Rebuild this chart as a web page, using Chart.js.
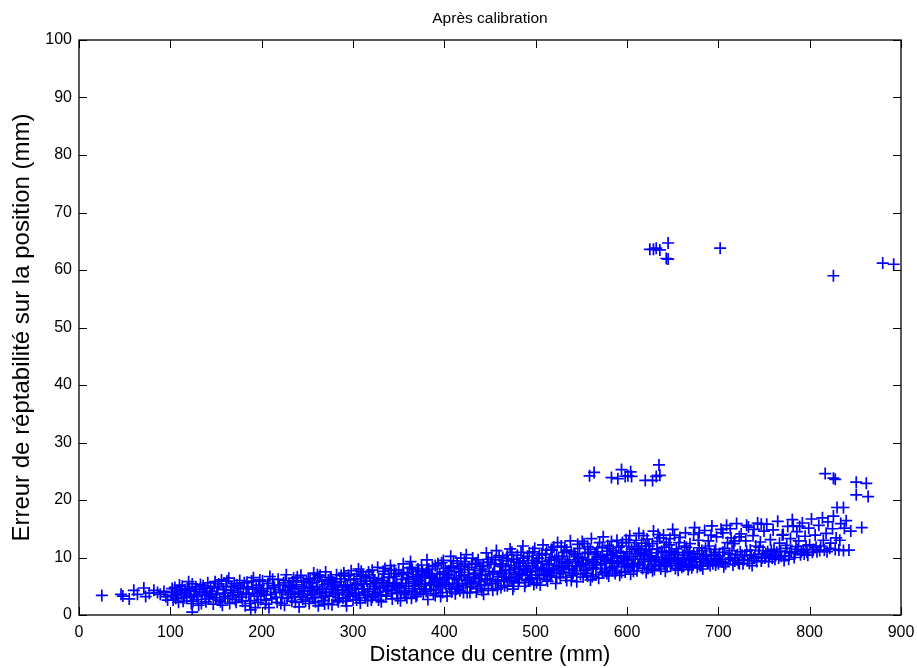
<!DOCTYPE html>
<html><head><meta charset="utf-8">
<script src="https://cdn.jsdelivr.net/npm/chart.js@4/dist/chart.umd.min.js"></script>
<style>html,body{margin:0;padding:0;background:#fff}#w{width:917px;height:668px}</style>
</head><body><div id="w"><canvas id="c" width="917" height="668"></canvas></div>
<script>
const titleText = "Après calibration";
const xLabel = "Distance du centre (mm)";
const yLabel = "Erreur de réptabilité sur la position (mm)";
const xTicks = [0,100,200,300,400,500,600,700,800,900];
const yTicks = [0,10,20,30,40,50,60,70,80,90,100];

// [distance (mm), erreur (mm)]
const cloudNear = [
[25,3.4],[46,3.6],[48,3.3],[55,2.8],[60,4.3],[64,3.6],[71,4.7],[73,3.2],[77,3.8],[82,4.3],[86,3.9],[89,3.6],[93,4.1],[95,3.2],[97,2.6],
[102,4.6],[104,3.4],[106,2.9],[108,4.0],[110,5.2],[112,3.7],[114,2.4],[116,4.4],[118,3.1],[120,5.8],[121,4.2],[123,2.0],[124,0.5],[126,3.6],[128,4.9],[130,2.7],[131,1.7],[133,5.3],[135,3.9],[137,4.6],[139,2.3],[141,5.6],[143,3.3],[145,4.1],[147,1.9],[149,5.8],[150,3.0],
[152,4.7],[154,2.6],[156,6.1],[157,1.7],[159,3.8],[161,5.0],[163,2.9],[164,6.4],[166,4.3],[168,3.4],[170,5.5],[172,2.2],[174,4.0],[176,6.0],[178,3.1],[180,4.8],[182,1.6],[184,5.7],[186,3.6],[188,0.9],[188,2.5],[190,4.5],[191,6.5],[193,1.3],[195,3.3],[197,5.2],[199,2.7],[200,4.2]
];
const cloudMid = [
[201,5.9],[203,3.5],[204,1.9],[206,4.6],[208,1.3],[209,6.7],[211,2.8],[213,5.1],[215,3.9],[217,2.2],[218,6.2],[220,4.4],[222,3.0],[224,5.6],[225,1.7],[227,7.0],[229,3.6],[231,4.9],[233,2.4],[235,6.4],[236,3.2],[238,5.3],[240,4.0],[241,1.4],[243,6.9],[245,2.7],[247,4.7],[249,5.8],[250,3.4],
[252,2.0],[253,6.1],[255,4.2],[257,7.3],[258,3.0],[260,5.0],[262,1.6],[263,6.6],[265,3.8],[267,4.6],[268,2.5],[270,7.5],[272,5.5],[274,3.3],[275,6.2],[277,1.8],[279,4.9],[281,3.6],[282,7.0],[284,2.3],[286,5.8],[288,4.3],[289,2.9],[291,6.8],[293,1.6],[294,5.2],[296,3.9],[298,7.7],[299,4.7],[300,2.6],
[301,6.3],[303,3.4],[305,5.4],[306,8.0],[308,2.1],[310,4.5],[311,6.9],[313,3.0],[315,5.9],[317,7.5],[318,4.1],[320,2.6],[322,6.4],[324,5.0],[325,3.7],[327,8.3],[329,4.7],[331,2.3],[332,6.0],[334,7.1],[336,3.3],[338,5.6],[339,4.4],[341,8.6],[343,2.8],[345,6.7],[346,5.1],[348,3.9],[350,7.8],
[351,4.8],[352,2.5],[354,6.2],[355,8.9],[357,3.6],[358,5.5],[360,7.3],[361,4.2],[363,9.3],[364,2.9],[366,6.7],[368,5.1],[369,3.2],[371,8.0],[373,4.6],[374,6.0],[376,7.6],[377,3.8],[379,5.4],[381,9.6],[382,2.7],[384,6.9],[385,4.4],[387,8.4],[389,5.8],[390,3.4],[392,7.2],[394,4.9],[395,6.4],[397,9.1],[398,3.9],[400,5.6],
[401,8.1],[403,3.3],[404,6.8],[406,4.6],[407,10.2],[409,5.5],[411,7.6],[412,3.7],[414,9.0],[416,6.1],[417,4.2],[419,8.5],[420,5.2],[422,7.0],[424,10.5],[425,3.9],[427,6.5],[429,4.9],[430,8.8],[432,5.8],[433,7.3],[435,4.0],[437,9.6],[438,6.3],[440,5.1],[442,8.0],[443,3.6],[445,7.0],[446,10.8],[448,4.6],[450,6.0]
];
const cloudFar = [
[451,9.1],[453,4.3],[454,7.4],[456,5.5],[457,11.2],[459,6.7],[461,8.5],[462,4.8],[464,10.0],[465,6.1],[467,7.9],[469,5.1],[470,9.4],[472,11.5],[473,6.4],[475,4.5],[477,8.2],[478,7.1],[480,10.4],[481,5.6],[483,9.0],[485,6.9],[486,12.0],[488,5.0],[490,8.0],[491,7.5],[493,10.8],[494,6.2],[496,9.5],[498,5.3],[499,11.6],[500,7.7],
[502,6.4],[503,9.9],[505,5.2],[506,8.3],[508,12.2],[510,7.1],[511,10.6],[513,5.9],[514,8.9],[516,6.8],[518,11.3],[519,7.8],[521,9.6],[522,5.5],[524,12.6],[526,8.4],[527,6.5],[529,10.2],[530,7.4],[532,11.8],[534,6.0],[535,9.2],[537,8.0],[538,12.9],[540,6.9],[542,10.7],[543,7.7],[545,5.8],[547,9.8],[548,11.6],[550,8.6],
[552,6.6],[553,12.4],[555,9.0],[556,7.3],[558,10.9],[560,6.1],[561,13.3],[563,8.2],[564,9.7],[566,7.0],[568,11.7],[569,6.4],[571,10.1],[572,8.7],[574,13.6],[576,7.6],[577,9.4],[579,12.1],[580,6.8],[582,10.5],[584,8.0],[585,11.2],[587,7.2],[589,13.0],[590,9.1],[592,6.9],[593,10.8],[595,12.6],[597,8.4],[598,7.5],[600,11.0],
[601,9.5],[603,13.8],[604,7.1],[606,8.8],[608,11.9],[609,10.2],[611,7.7],[613,14.2],[614,9.0],[616,12.5],[617,8.1],[619,10.6],[621,7.4],[622,13.2],[624,9.6],[625,11.4],[627,8.4],[629,14.6],[630,7.9],[632,10.0],[633,12.8],[635,9.2],[637,8.0],[638,11.1],[640,13.9],[642,7.6],[643,10.4],[645,9.4],[646,12.2],[648,8.6],[650,14.9]
];
const cloudEdge = [
[651,9.9],[653,8.1],[654,11.5],[656,7.8],[658,13.5],[659,9.1],[661,10.4],[662,8.5],[664,14.3],[666,10.8],[667,7.9],[669,12.4],[670,9.4],[672,8.7],[674,15.2],[675,10.1],[677,8.3],[678,13.0],[680,9.7],[682,11.2],[683,8.0],[685,14.7],[687,10.5],[688,9.0],[690,12.0],[691,8.6],[693,15.5],[695,9.8],[696,10.9],[698,13.6],[700,8.9],
[701,10.3],[703,14.9],[704,9.2],[706,8.4],[707,11.6],[709,15.6],[711,9.7],[712,10.6],[714,13.4],[716,8.7],[717,12.4],[719,10.0],[720,15.9],[722,9.1],[724,11.0],[725,14.1],[727,8.9],[729,10.4],[730,12.9],[732,9.5],[733,15.3],[735,11.3],[737,8.6],[738,13.8],[740,10.1],[742,9.3],[743,16.0],[745,11.8],[746,12.7],[748,9.9],[750,14.6],
[752,10.6],[753,15.8],[755,9.3],[757,13.1],[758,11.2],[760,14.8],[762,9.7],[764,10.9],[765,16.3],[767,12.5],[769,10.2],[771,14.0],[772,9.5],[774,11.6],[776,15.4],[778,10.8],[779,13.3],[781,16.6],[783,10.0],[785,11.9],[786,14.5],[788,12.9],[790,10.5],[792,16.0],[793,11.3],[795,13.7],[797,10.9],[799,15.1],[800,12.2],
[802,16.7],[804,11.4],[806,13.9],[808,11.0],[810,15.6],[812,12.0],[814,16.9],[816,11.3],[818,14.2],[820,16.2],[822,11.6],[825,15.0],[826,17.2],[829,13.4],[832,11.3],[834,15.9],[837,11.2],[840,16.4],[845,14.6],[857,15.2]
];
const cloudCore = [
[101,3.9],[103,2.6],[105,4.8],[107,3.5],[109,2.2],[111,4.3],[113,5.0],[115,3.0],[117,3.8],[119,4.6],[122,3.3],[124,5.4],
[125,2.4],[127,4.1],[129,3.2],[132,4.5],[134,2.0],[136,5.1],[138,3.5],[140,4.0],[142,2.8],[144,4.8],[146,3.7],[148,5.0],
[151,3.6],[153,5.4],[155,2.3],[158,4.4],[160,3.2],[162,5.9],[165,2.0],[167,4.9],[169,3.9],[171,2.7],[173,5.2],[175,3.5],
[177,4.6],[179,2.4],[181,5.6],[183,3.8],[185,4.9],[187,2.0],[189,5.9],[192,3.7],[194,4.8],[196,2.2],[198,6.1],[199,3.9],
[202,4.1],[205,2.6],[207,5.5],[210,3.6],[212,6.2],[214,4.8],[216,3.1],[219,5.2],[221,2.0],[223,4.0],[226,6.0],[228,2.9],
[230,5.2],[232,3.9],[234,4.6],[237,2.2],[239,6.6],[242,3.7],[244,5.0],[246,4.2],[248,2.4],[251,6.3],[226,4.3],[234,5.8],
[254,3.6],[256,5.6],[259,2.3],[261,4.4],[264,6.9],[266,3.1],[269,5.3],[271,4.0],[273,2.0],[276,6.5],[278,3.9],[254,4.8],[261,7.0],[269,1.9],
[280,5.6],[283,4.4],[285,3.0],[287,6.3],[290,4.9],[292,2.4],[295,6.9],[297,3.3],[278,5.8],[283,2.6],[290,7.3],[295,4.3],
[302,4.6],[304,7.1],[307,3.0],[309,5.8],[312,4.0],[314,6.6],[316,2.5],[319,5.4],[321,7.8],[323,3.6],[326,5.6],[304,2.6],[309,7.6],[316,4.5],[321,3.1],
[328,6.3],[330,3.5],[333,4.9],[335,8.1],[337,4.1],[340,6.5],[342,3.7],[344,5.4],[347,7.2],[349,2.9],[328,2.6],[335,5.0],[342,7.8],[349,4.7],
[353,7.0],[356,3.9],[359,6.5],[362,8.2],[365,4.6],[367,5.8],[370,3.5],[372,7.6],[375,5.0],[353,5.2],[359,3.0],[365,7.9],[370,6.2],[375,8.7],
[378,6.8],[380,4.1],[383,8.0],[386,5.2],[388,3.7],[391,6.1],[393,8.9],[396,5.0],[399,7.5],[380,7.3],[386,6.7],[391,4.4],[396,3.2],[399,9.5],
[402,5.0],[405,7.7],[408,4.0],[410,9.4],[413,6.3],[415,5.0],[418,7.4],[421,3.9],[423,8.8],[402,6.5],[408,8.2],[413,4.5],[418,9.9],[423,5.5],
[426,7.9],[428,5.6],[431,9.9],[434,6.6],[436,4.6],[439,8.4],[441,6.9],[444,5.3],[447,9.2],[449,7.6],[428,3.9],[434,8.9],[441,4.3],[447,6.3],
[452,5.5],[455,8.8],[458,6.1],[460,10.3],[463,7.2],[466,5.1],[468,9.8],[471,7.8],[474,5.9],[452,10.0],[458,4.5],[463,8.9],[468,6.6],[474,10.9],
[476,7.4],[479,9.2],[482,6.2],[484,10.9],[487,7.8],[489,5.7],[492,9.0],[495,7.0],[497,11.0],[476,5.0],[482,8.4],[487,9.9],[492,6.0],[497,8.6],
[501,9.2],[504,6.9],[507,10.7],[509,8.0],[512,6.2],[515,9.5],[517,7.3],[520,11.8],[523,8.6],[501,5.6],[507,7.8],[512,11.3],[517,10.0],[523,6.6],
[525,9.8],[528,7.9],[531,10.9],[533,6.6],[536,8.6],[539,11.0],[541,7.3],[544,9.3],[546,12.3],[549,7.1],[528,12.0],[533,9.0],[539,6.0],[546,10.2],
[551,10.0],[554,7.8],[557,11.9],[559,8.6],[562,6.7],[565,10.6],[567,8.8],[570,12.6],[573,7.4],[551,12.8],[557,6.8],[562,9.3],[567,11.0],[573,10.3],
[575,9.7],[578,11.1],[581,8.3],[583,12.8],[586,9.9],[588,7.7],[591,11.8],[594,8.9],[596,10.2],[599,13.1],[578,7.2],[583,9.0],[588,10.8],[594,7.4],[599,9.6],
[602,8.3],[605,11.4],[607,9.7],[610,13.0],[612,8.7],[615,10.9],[618,9.3],[620,12.0],[623,8.1],[602,12.6],[607,7.6],[612,11.6],[618,13.8],[623,10.3],
[626,9.9],[628,12.4],[631,8.8],[634,10.8],[636,13.4],[639,9.6],[641,11.8],[644,8.4],[647,10.8],[649,9.0],[628,7.7],[634,14.0],[641,8.9],[647,13.3],
[652,10.6],[655,9.4],[657,12.6],[660,8.3],[663,10.0],[665,9.0],[668,11.1],[671,8.2],[673,10.6],[652,13.9],[657,8.9],[663,12.0],[668,8.6],[673,14.0],
[676,9.2],[679,11.7],[681,8.6],[684,10.2],[686,9.4],[689,12.9],[692,10.3],[694,8.9],[697,11.4],[699,9.7],[679,14.3],[686,11.6],[692,13.9],[697,8.7],
[702,9.6],[705,10.9],[708,8.9],[710,12.6],[713,9.9],[715,11.2],[718,9.4],[721,10.5],[723,8.9],[705,14.3],[713,15.0],[718,12.9],[723,13.6],
[726,10.4],[728,9.6],[731,11.1],[734,9.0],[736,10.4],[739,9.9],[741,12.0],[744,10.6],[747,9.4],[749,11.2],[731,15.6],[739,14.9],[747,15.8],
[751,9.9],[754,11.0],[756,10.2],[759,9.9],[761,11.4],[763,10.4],[766,9.9],[768,11.1],[770,13.9],[773,10.3],[775,12.1],[777,9.7],[780,11.0],[782,15.5],[784,10.7],[787,11.4],[789,15.4],[791,11.0],[794,10.6],[796,12.0],[798,10.4],
[803,10.9],[807,11.8],[811,11.2],[815,13.0],[819,11.0],[823,12.5],[828,11.4],[833,13.0],[838,15.1],[843,11.3]
];
const cloudDense = [
[232,4.8],[236,3.6],[238,6.0],[244,3.1],[246,5.7],[252,4.6],[256,3.0],[258,6.4],[263,4.0],[266,5.9],[270,3.4],[273,6.1],[276,4.5],[281,5.2],[284,3.9],[287,6.9],[292,5.0],[294,3.6],[297,6.1],
[303,5.1],[306,3.8],[308,6.7],[312,5.4],[314,3.4],[318,7.0],[322,4.5],[324,6.0],[327,3.9],[331,5.6],[333,7.6],[337,4.9],[339,6.6],[343,4.3],[345,7.8],[348,5.5],
[353,4.1],[355,7.4],[358,5.0],[361,6.2],[364,8.3],[367,4.0],[369,7.0],[372,5.4],[376,6.6],[378,4.5],[381,7.8],[384,5.6],[387,6.4],[390,8.6],[393,5.3],[395,7.1],[398,6.0],
[403,7.1],[405,5.3],[407,8.5],[411,6.4],[414,4.9],[416,8.0],[419,6.8],[422,9.3],[425,6.0],[427,8.3],[430,5.4],[432,7.0],[435,9.0],[438,5.8],[440,7.7],[443,8.6],[445,6.1],[448,9.7],
[453,7.1],[456,9.6],[459,5.9],[461,7.6],[464,8.4],[466,6.6],[469,10.4],[471,6.0],[473,8.6],[476,9.7],[479,6.6],[481,8.0],[484,7.2],[486,9.4],[489,8.5],[491,10.2],[494,7.5],[496,6.4],[499,9.0],
[502,8.2],[504,10.4],[507,9.3],[509,6.9],[512,8.7],[515,7.5],[517,11.4],[520,8.1],[523,10.2],[526,7.2],[529,9.3],[531,8.3],[534,11.3],[537,9.6],[540,8.0],[543,10.5],[545,8.4],[548,9.0],
[552,8.8],[554,10.7],[557,9.6],[560,11.4],[562,8.0],[565,9.1],[568,10.1],[571,8.0],[573,11.8],[576,9.0],[579,10.4],[581,11.6],[584,9.3],[586,8.4],[589,10.3],[591,9.4],[594,12.0],[597,9.9],[600,8.6],
[603,10.7],[605,9.0],[608,8.4],[611,10.7],[613,11.3],[616,9.7],[619,8.7],[621,11.2],[624,12.0],[627,10.3],[630,9.4],[633,11.5],[635,8.6],[638,10.0],[641,9.2],[643,12.6],[646,9.9],[649,11.1],
[653,9.7],[656,10.9],[659,8.8],[662,9.6],[665,11.8],[668,9.9],[671,10.0],[674,9.3],[677,10.7],[680,8.6],[683,9.8],[686,10.4],[689,9.0],[692,9.4],[695,10.5],[698,9.3]
];
const outliers = [
[559,24.2],[564,24.8],[583,23.9],[590,23.7],[594,25.3],[598,24.1],[601,24.2],[604,24.9],[605,24.1],[620,23.4],[628,23.4],[632,24.1],[635,26.1],[636,24.3],
[817,24.6],[826,23.8],[828,23.6],[830,18.7],[837,18.7],[851,23.1],[862,22.9],[851,20.9],[864,20.6],
[625,63.6],[629,63.6],[632,63.8],[636,63.5],[645,64.7],[643,62.0],[645,61.9],[702,63.8],[826,59.0],[880,61.2],[892,61.0]
];

const allPoints = [].concat(cloudNear, cloudMid, cloudFar, cloudEdge, cloudCore, cloudDense, outliers).map(p => ({x: p[0], y: p[1]}));

const FONT = "'Liberation Sans', Arial, Helvetica, sans-serif";

const boxPlugin = {
  id: 'box',
  afterDatasetsDraw(chart) {
    const {ctx, chartArea: a, scales: {x, y}} = chart;
    ctx.save();
    ctx.strokeStyle = '#000';
    ctx.lineWidth = 1;
    const L = 8;
    ctx.beginPath();
    xTicks.forEach(v => {
      const px = Math.round(x.getPixelForValue(v)) + 0.5;
      ctx.moveTo(px, a.bottom); ctx.lineTo(px, a.bottom - L);
      ctx.moveTo(px, a.top); ctx.lineTo(px, a.top + L);
    });
    yTicks.forEach(v => {
      const py = Math.round(y.getPixelForValue(v)) + 0.5;
      ctx.moveTo(a.left, py); ctx.lineTo(a.left + L, py);
      ctx.moveTo(a.right, py); ctx.lineTo(a.right - L, py);
    });
    ctx.stroke();
    ctx.lineWidth = 1.3;
    ctx.strokeRect(a.left, a.top, a.right - a.left, a.bottom - a.top);
    ctx.restore();
  }
};

new Chart(document.getElementById('c'), {
  type: 'scatter',
  data: {
    datasets: [{
      data: allPoints,
      showLine: false,
      pointStyle: 'cross',
      pointRadius: 6,
      pointHoverRadius: 6,
      borderColor: '#0000ff',
      pointBorderColor: '#0000ff',
      backgroundColor: '#0000ff',
      pointBorderWidth: 1.7,
      borderWidth: 1.7
    }]
  },
  options: {
    responsive: false,
    devicePixelRatio: 1,
    animation: false,
    events: [],
    layout: {padding: {top: 0, right: 16, bottom: 0, left: 0}},
    plugins: {
      legend: {display: false},
      tooltip: {enabled: false},
      title: {
        display: true,
        text: titleText,
        fullSize: false,
        color: '#000',
        font: {family: FONT, size: 15.5, weight: 'normal'},
        padding: {top: 9, bottom: 12.4}
      }
    },
    scales: {
      x: {
        type: 'linear',
        min: 0, max: 900,
        afterBuildTicks: s => { s.ticks = xTicks.map(v => ({value: v})); },
        afterFit: s => { s.height = 53; s.paddingRight = 0; s.paddingLeft = 0; },
        grid: {display: false, drawTicks: false},
        border: {display: false},
        ticks: {color: '#000', padding: 8, maxRotation: 0, autoSkip: false, font: {family: FONT, size: 16}},
        title: {display: true, text: xLabel, color: '#000', font: {family: FONT, size: 22}, padding: {top: 0, bottom: 0}}
      },
      y: {
        type: 'linear',
        min: 0, max: 100,
        afterBuildTicks: s => { s.ticks = yTicks.map(v => ({value: v})); },
        afterFit: s => { s.width = 79; s.paddingTop = 0; s.paddingBottom = 0; },
        grid: {display: false, drawTicks: false},
        border: {display: false},
        ticks: {color: '#000', padding: 7, autoSkip: false, font: {family: FONT, size: 16}},
        title: {display: true, text: yLabel, color: '#000', font: {family: FONT, size: 24}, padding: {top: 8, bottom: 0}}
      }
    }
  },
  plugins: [boxPlugin]
});
</script>
</body></html>
